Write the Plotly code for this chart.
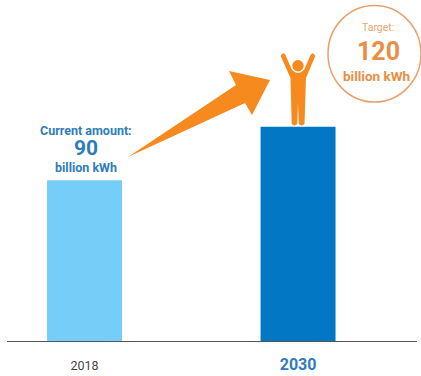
import plotly.graph_objects as go

# Electricity amounts in billion kWh
years = ["2018", "2030"]
amounts = [90, 120]
bar_colors = ["#76cdf7", "#0277c3"]

WIDTH, HEIGHT = 421, 376
LEFT, RIGHT, BOTTOM = 7, 4, 35
FONT = "Roboto, Liberation Sans, Arial, sans-serif"
ORANGE = "#f68a1f"
BLUE_TEXT = "#2e7dba"
TAN = "#e88f43"


def px(x):
    return (x - LEFT) / (WIDTH - LEFT - RIGHT)


def py(y):
    return (HEIGHT - BOTTOM - y) / (HEIGHT - BOTTOM)


def path(points):
    """Builds an SVG path in paper units from (command, x, y, ...) tuples."""
    parts = []
    for p in points:
        cmd, coords = p[0], p[1:]
        mapped = [
            f"{px(c):.5f}" if i % 2 == 0 else f"{py(c):.5f}"
            for i, c in enumerate(coords)
        ]
        parts.append(cmd + " " + " ".join(mapped))
    return " ".join(parts) + " Z"


fig = go.Figure(
    go.Bar(
        x=[0, 1],
        y=amounts,
        width=0.351,
        marker=dict(color=bar_colors, line_width=0),
        hoverinfo="skip",
    )
)

# Growth arrow from the current amount towards the target
arrow = path([
    ("M", 128, 157), ("L", 236, 85), ("L", 229, 71), ("L", 270, 80),
    ("L", 252, 115), ("L", 245, 103),
])

# Figure with raised arms standing on the 2030 bar
body = path([
    ("M", 280.7, 56), ("Q", 283, 51, 285.5, 55), ("L", 291.5, 69),
    ("Q", 298, 77, 304.5, 69), ("L", 310.5, 55), ("Q", 313, 51, 315.3, 56),
    ("L", 306, 78), ("L", 304.5, 124), ("Q", 301.5, 127, 298.8, 124),
    ("L", 298, 103), ("L", 297.2, 124), ("Q", 294.5, 127, 291.7, 124),
    ("L", 290.5, 78),
])

shapes = [
    dict(type="path", path=arrow, xref="paper", yref="paper",
         fillcolor=ORANGE, line_width=0, layer="above"),
    dict(type="path", path=body, xref="paper", yref="paper",
         fillcolor=ORANGE, line_width=0, layer="above"),
    dict(type="circle", xref="paper", yref="paper",
         x0=px(292.3), x1=px(303.7), y0=py(71.4), y1=py(60),
         fillcolor=ORANGE, line_width=0, layer="above"),
    dict(type="circle", xref="paper", yref="paper",
         x0=px(328), x1=px(421), y0=py(102), y1=py(5.5),
         fillcolor="rgba(0,0,0,0)", line=dict(color="#e9a06a", width=1.5), layer="above"),
]


def note(text, x, y, size, color, bold=True):
    return dict(
        text=f"<b>{text}</b>" if bold else text,
        x=px(x), y=py(y), xref="paper", yref="paper",
        xanchor="center", yanchor="middle", showarrow=False,
        font=dict(family=FONT, size=size, color=color),
    )


annotations = [
    note("Current amount:", 86, 130, 12.5, BLUE_TEXT),
    note(str(amounts[0]), 86, 148, 21, BLUE_TEXT),
    note("billion kWh", 86, 167, 12.5, BLUE_TEXT),
    note("Target:", 378, 27, 10.5, "#e8a76c", bold=False),
    note(str(amounts[1]), 378, 52, 25, TAN),
    note("billion kWh", 376, 76, 13.5, TAN),
]

tick_text = [
    f'<span style="color:#444444;font-size:12.5px">{years[0]}</span>',
    f'<span style="color:{BLUE_TEXT};font-size:16px"><b>{years[1]}</b></span>',
]

fig.update_layout(
    width=WIDTH,
    height=HEIGHT,
    margin=dict(l=LEFT, r=RIGHT, t=0, b=BOTTOM, autoexpand=False),
    paper_bgcolor="white",
    plot_bgcolor="white",
    showlegend=False,
    shapes=shapes,
    annotations=annotations,
    font=dict(family=FONT),
    xaxis=dict(
        range=[-0.363, 1.557],
        tickmode="array",
        tickvals=[0, 1],
        ticktext=tick_text,
        ticks="outside",
        ticklen=14,
        tickcolor="rgba(0,0,0,0)",
        showgrid=False,
        showline=True,
        linecolor="#555555",
        linewidth=1,
        zeroline=False,
        fixedrange=True,
    ),
    yaxis=dict(range=[0, 191], visible=False, fixedrange=True),
)

fig.write_html("out.html", config=dict(displayModeBar=False))
